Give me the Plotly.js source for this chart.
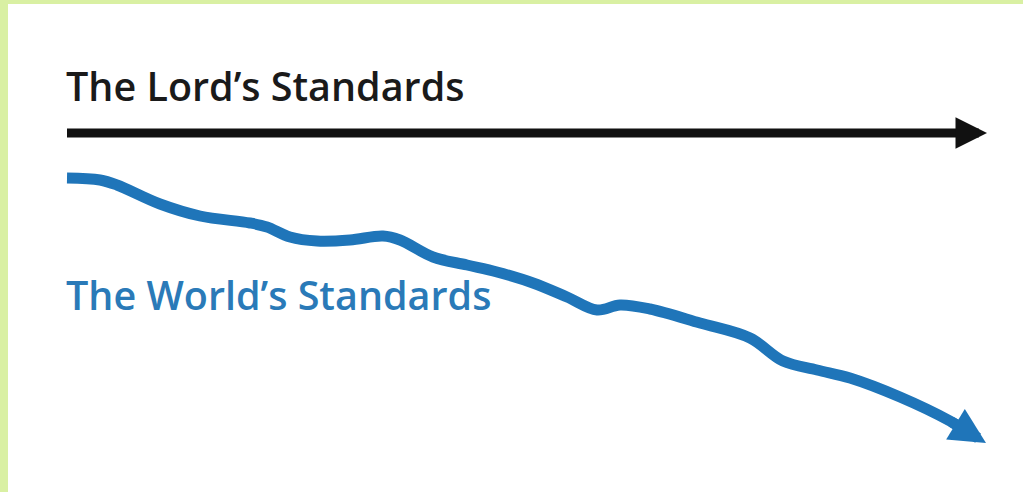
<!DOCTYPE html>
<html><head><meta charset="utf-8">
<script src="https://cdn.plot.ly/plotly-3.0.1.min.js"></script>
<style>html,body{margin:0;padding:0;background:#ffffff;}#chart{width:1023px;height:492px;}</style>
</head><body><div id="chart"></div>
<script>
// Horizontal position (progress) and vertical level of each standard
const lordX = [67, 975];
const lordY = [133, 133];
const worldX = [67, 100, 117, 160, 200, 250, 267, 290, 317, 350, 383, 400, 433, 467, 497, 533, 567, 597, 620, 650, 700, 750, 783, 817, 850, 900, 950, 966];
const worldY = [178, 180, 185, 204, 216, 223, 227, 237, 241, 240, 236, 240, 257, 265, 272, 283, 297, 310, 305, 309, 323, 338, 361, 370, 378, 397, 421, 431];
const worldArrowTip = [986, 443];
const lordArrowTip = [987, 133];
const labels = ["The Lord’s Standards", "The World’s Standards"];

const black = '#111111';
const blue = '#1f75b9';

const traces = [
  {x: lordX, y: lordY, mode: 'lines', line: {color: black, width: 9}, hoverinfo: 'skip'},
  {x: worldX, y: worldY, mode: 'lines', line: {color: blue, width: 11, shape: 'spline', smoothing: 1}, hoverinfo: 'skip'}
];

const layout = {
  width: 1023, height: 492,
  margin: {l: 8, r: 0, t: 4, b: 0},
  paper_bgcolor: '#d9f0a3',
  plot_bgcolor: '#ffffff',
  showlegend: false,
  xaxis: {range: [8, 1023], visible: false, fixedrange: true},
  yaxis: {range: [492, 4], visible: false, fixedrange: true},
  annotations: [
    {x: lordArrowTip[0], y: lordArrowTip[1], ax: lordX[1] - 20, ay: lordY[1], xref: 'x', yref: 'y', axref: 'x', ayref: 'y',
     text: '', showarrow: true, arrowhead: 2, arrowsize: 0.7, arrowwidth: 9, arrowcolor: black},
    {x: worldArrowTip[0], y: worldArrowTip[1], ax: worldX[worldX.length - 2], ay: worldY[worldY.length - 2], xref: 'x', yref: 'y', axref: 'x', ayref: 'y',
     text: '', showarrow: true, arrowhead: 2, arrowsize: 0.65, arrowwidth: 11, arrowcolor: blue},
    {x: 67, y: 103, xref: 'x', yref: 'y', xanchor: 'left', yanchor: 'bottom', showarrow: false, text: labels[0],
     font: {family: 'Open Sans', size: 39.5, color: '#1a1a1a', weight: 600}, yshift: -12, xshift: -3},
    {x: 67, y: 312, xref: 'x', yref: 'y', xanchor: 'left', yanchor: 'bottom', showarrow: false, text: labels[1],
     font: {family: 'Open Sans', size: 39.5, color: '#2a7ab8', weight: 600}, yshift: -12, xshift: -3}
  ]
};

Plotly.newPlot('chart', traces, layout, {displayModeBar: false, staticPlot: true});
</script></body></html>
